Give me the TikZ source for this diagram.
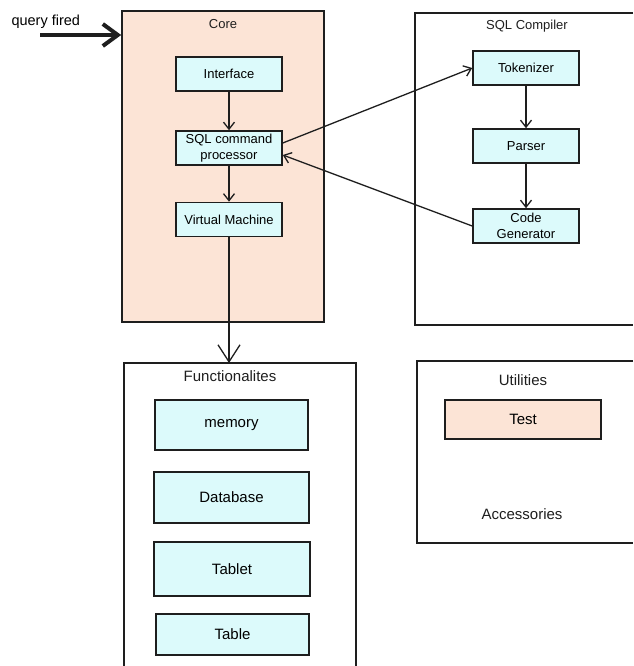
\documentclass[tikz,border=0pt]{standalone}
\usepackage{fontspec}
\setsansfont{Liberation Sans}
\usetikzlibrary{arrows.meta, positioning}
\definecolor{durazno}{HTML}{FCE4D6}
\definecolor{celeste}{HTML}{DCFAFB}
\definecolor{borde}{HTML}{1E1E1E}
\tikzset{
  every picture/.style={font=\sffamily},
  panel/.style={draw=borde, line width=1.6pt, inner sep=0pt},
  caja/.style={draw=borde, fill=celeste, line width=1.6pt, inner sep=0pt, align=center,
               minimum width=106pt, minimum height=34pt, font=\sffamily\fontsize{13}{16}\selectfont},
  cajag/.style={caja, minimum width=153pt, font=\sffamily\fontsize{15}{17}\selectfont},
  titulo/.style={anchor=base, text=borde, font=\sffamily\fontsize{13}{15}\selectfont},
  titulog/.style={anchor=base, text=borde, font=\sffamily\fontsize{15}{17}\selectfont},
  flecha/.style={-{Straight Barb[length=7pt, width=11pt]}, line width=1.3pt, borde},
  flechag/.style={-{Straight Barb[length=17pt, width=22pt]}, line width=1.3pt, borde},
}
\begin{document}
\begin{tikzpicture}[x=1pt, y=-1pt]
  \useasboundingbox (0,0) rectangle (633,666);
  \node[panel, fill=durazno, minimum width=202pt, minimum height=311pt] (core) at (223,166.5) {};
  \node[titulo] (coretit) at (223,28.5) {Core};
  \node[caja] (iface) at (229,74) {Interface};
  \node[caja] (sqlp) at (229,148) {SQL command\\processor};
  \node[caja] (vm) at (229,219.5) {Virtual Machine};
  \node[anchor=base west, font=\sffamily\fontsize{14.5}{16}\selectfont] (consulta) at (8,25.5) {query fired};
  \coordinate (qini) at (40,35);
  \draw[line width=4pt, borde, -{Straight Barb[length=15pt, width=22pt, line width=4pt]}] (qini) -- (qini -| core.west);
  \draw[flecha] (iface) -- (sqlp);
  \draw[flecha] (sqlp) -- (vm);

  \draw[panel] (633,13) -| (415,325) -- (633,325);
  \node[titulo] (comptit) at (527,30) {SQL Compiler};
  \node[caja] (tok) at (526,68) {Tokenizer};
  \node[caja] (pars) at (526,146) {Parser};
  \node[caja] (cgen) at (526,226) {Code\\Generator};
  \draw[flecha] (tok) -- (pars);
  \draw[flecha] (pars) -- (cgen);
  \draw[flecha] ([yshift=5pt]sqlp.east) -- (tok.west);
  \draw[flecha] (cgen.west) -- ([yshift=-7pt]sqlp.east);

  \coordinate (funtop) at (229,363);
  \draw[panel] (124,666) |- (funtop) -| (356,666);
  \node[titulog] (funtit) at (230,381.5) {Functionalites};
  \node[cajag, minimum height=50pt] (mem) at (231.5,425) {memory};
  \node[cajag, minimum width=155pt, minimum height=51pt] (db) at (231.5,497.5) {Database};
  \node[cajag, minimum width=156pt, minimum height=54pt] (tablet) at (232,569) {Tablet};
  \node[cajag, minimum height=41pt] (tabla) at (232.5,634.5) {Table};
  \draw[flechag] (vm) -- (vm |- funtop);

  \draw[panel] (633,361) -| (417,543) -- (633,543);
  \node[titulog] (utiltit) at (523,385.5) {Utilities};
  \node[cajag, fill=durazno, minimum width=156pt, minimum height=39pt] (test) at (523,419.5) {Test};
  \node[titulog] (acces) at (522,519.5) {Accessories};
\end{tikzpicture}
\end{document}
